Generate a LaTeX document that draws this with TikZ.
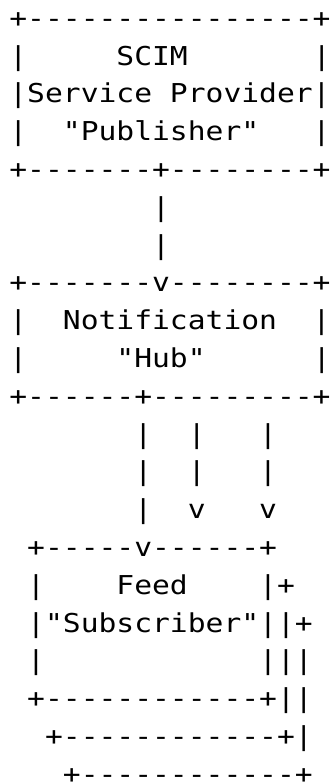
\documentclass[tikz,border=0pt]{standalone}
\usepackage{fontspec}
\setmonofont{DejaVu Sans Mono}[FakeStretch=1.14]
\usepackage{tikz}

\begin{document}
\begin{tikzpicture}[
  asciirow/.style={anchor=base west, inner sep=0pt, outer sep=0pt, font=\ttfamily\fontsize{13pt}{18.9pt}\selectfont}
]
\useasboundingbox (0,0) rectangle (164.5pt,-392pt);
% one node per printed line of the sketch
\foreach \txt [count=\k] in {
  {+----------------+},
  {|~~~~~SCIM~~~~~~~|},
  {|Service~Provider|},
  {|~~"Publisher"~~~|},
  {+-------+--------+},
  {~~~~~~~~|},
  {~~~~~~~~|},
  {+-------v--------+},
  {|~~Notification~~|},
  {|~~~~~"Hub"~~~~~~|},
  {+------+---------+},
  {~~~~~~~|~~|~~~|},
  {~~~~~~~|~~|~~~|},
  {~~~~~~~|~~v~~~v},
  {~+-----v------+},
  {~|~~~~Feed~~~~|+},
  {~|"Subscriber"||+},
  {~|~~~~~~~~~~~~|||},
  {~+------------+||},
  {~~+------------+|},
  {~~~+------------+}%
} \node[asciirow] (row\k) at (4.7pt, {-13.6pt-(\k-1)*18.9pt}) {\txt};
\end{tikzpicture}
\end{document}
